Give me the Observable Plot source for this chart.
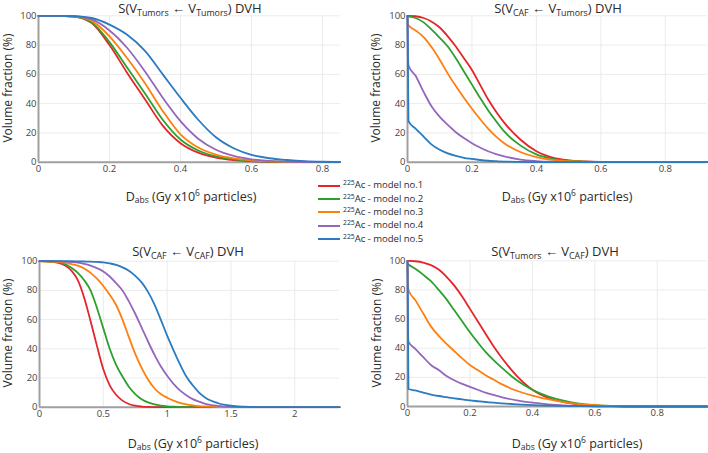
<!DOCTYPE html>
<html>
<head>
<meta charset="utf-8">
<script src="https://cdn.jsdelivr.net/npm/d3@7"></script>
<script src="https://cdn.jsdelivr.net/npm/@observablehq/plot@0.6"></script>
<style>
  html, body { margin: 0; padding: 0; background: #fff; }
  #fig { position: relative; width: 708px; height: 453px; background: #fff; font-family: "Open Sans", sans-serif; color: #444; overflow: hidden; }
  .abs { position: absolute; white-space: nowrap; transform: translate(-50%, -50%); line-height: 1; }
  .ttl { font-size: 13px; color: #2a2a2a; }
  .xl { font-size: 12.5px; color: #2a2a2a; }
  .yl { font-size: 12px; color: #2a2a2a; transform: translate(-50%, -50%) rotate(-90deg); }
  .sb { font-size: 0.68em; vertical-align: -0.3em; }
  .sp { font-size: 0.68em; vertical-align: 0.55em; }
  .leg { position: absolute; font-size: 9.5px; color: #2a2a2a; white-space: nowrap; line-height: 1; }
  .leg i { display: inline-block; width: 22px; height: 0; border-top: 2px solid; vertical-align: middle; margin-right: 3px; }
  svg { position: absolute; }
</style>
</head>
<body>
<div id="fig"></div>
<script>
// ---------- shared ----------
const models = ["model no.1", "model no.2", "model no.3", "model no.4", "model no.5"];
const colors = ["#e3262b", "#2ca02c", "#ff7f0e", "#9467bd", "#2b7bc0"];
const yTicks = [0, 20, 40, 60, 80, 100];

// ---------- panel 1: S(V_Tumors <- V_Tumors) ----------
const p1Ticks = [0, 0.2, 0.4, 0.6, 0.8];
const p1X = [0,0.05,0.1,0.15,0.2,0.25,0.3,0.35,0.4,0.45,0.5,0.55,0.6,0.65,0.7,0.75,0.8,0.85];
const p1M1 = [100,100,99.5,95,80,61,43,25,13,6.5,3.2,1.5,0.7,0.3,0.1,0.03,0,0];
const p1M2 = [100,100,99.5,95.5,82,64.5,47,29,15.5,8,4,2,0.9,0.4,0.15,0.05,0.01,0];
const p1M3 = [100,100,99.6,96.5,86,71,54,35,19,10,5.2,2.6,1.2,0.5,0.2,0.08,0.02,0];
const p1M4 = [100,100,99.7,97.5,90,78,62,44,28,16,8.5,4.3,2,0.9,0.35,0.12,0.05,0];
const p1M5 = [100,100,99.8,98.5,94,87,76,60,44,29,17,9.5,5,2.7,1.5,0.7,0.3,0.1];

// ---------- panel 2: S(V_CAF <- V_Tumors) ----------
const p2Ticks = [0, 0.2, 0.4, 0.6, 0.8];
const p2X = [0,0.003,0.025,0.05,0.075,0.1,0.125,0.15,0.175,0.2,0.225,0.25,0.275,0.3,0.35,0.4,0.45,0.5,0.55,0.6,0.65,0.7,0.8,0.93];
const p2M1 = [100,100,99.7,98.5,96,92,86,79,71,63,53,43,34.5,27,15.5,7.5,3.2,1.3,0.5,0.15,0.05,0,0,0];
const p2M2 = [99.5,99.5,98.5,95.5,90.5,85,79,71,62,53,44,35.5,28,21,11.5,5.3,2.3,1,0.4,0.1,0.03,0,0,0];
const p2M3 = [98,93.5,90,85.5,78.5,70,60.5,52,44,36.5,29.5,23,17.5,13,7,3.5,1.6,0.7,0.25,0.1,0.03,0,0,0];
const p2M4 = [100,66,59,48,38,31,25.5,20.5,16.5,13,10,7.5,5.5,4,1.8,0.8,0.3,0.1,0.03,0,0,0,0,0];
const p2M5 = [100,28,23,17.5,12,8.5,6,4.3,3,2.2,1.5,1,0.7,0.45,0.2,0.05,0,0,0,0,0,0,0,0];

// ---------- panel 3: S(V_CAF <- V_CAF) ----------
const p3Ticks = [0, 0.5, 1, 1.5, 2];
const p3X = [0,0.1,0.2,0.25,0.3,0.35,0.4,0.45,0.5,0.55,0.6,0.65,0.7,0.75,0.8,0.85,0.9,0.95,1,1.05,1.1,1.15,1.2,1.25,1.3,1.4,1.5,1.6,1.7,1.8,2,2.35];
const p3M1 = [100,99.5,97,93.5,87,75,59,42,26,15,8.5,4.5,2.2,1,0.45,0.2,0.08,0.03,0,0,0,0,0,0,0,0,0,0,0,0,0,0];
const p3M2 = [100,99.7,98,95.5,92,87,80,68,54,40,29,21,14,9,5.5,3.3,1.9,1.1,0.6,0.3,0.15,0.05,0,0,0,0,0,0,0,0,0,0];
const p3M3 = [100,99.8,99,98,97,95,92,88,83,77,70,60,48,36.5,27,19,13,9,6.5,4.5,3,2,1.3,0.8,0.5,0.15,0.03,0,0,0,0,0];
const p3M4 = [100,100,99.7,99.4,99,98.2,97,95.3,93,89.5,85,80,72.5,64,54.5,45,36,28,21.5,16,11.5,8.2,5.5,3.8,2.3,0.9,0.3,0.1,0.03,0,0,0];
const p3M5 = [100,100,100,100,99.9,99.8,99.7,99.5,99.2,98.5,97.5,95.8,93.5,90,85.5,79,70.5,60,49,39,29.5,21,15,10,6.5,2.7,1,0.35,0.1,0.02,0,0];

// ---------- panel 4: S(V_Tumors <- V_CAF) ----------
const p4Ticks = [0, 0.2, 0.4, 0.6, 0.8];
const p4X = [0,0.003,0.025,0.05,0.075,0.1,0.125,0.15,0.175,0.2,0.225,0.25,0.275,0.3,0.35,0.4,0.45,0.5,0.55,0.6,0.65,0.7,0.75,0.8,0.96];
const p4M1 = [100,100,99.7,98.8,97,94,89,83,75.5,67,58.5,50,41.5,34,21,11.5,6,3,1.3,0.5,0.2,0.05,0,0,0];
const p4M2 = [98,97.5,94.5,90.5,86,80,73.5,66,58.5,51,44,37.5,32,27,18,11.5,7,4,2,1,0.4,0.15,0.05,0,0];
const p4M3 = [97,80,73,64,55,48.5,43,38,33,28.5,25,21.5,18.5,15.5,10.8,7.5,5,3,1.7,0.9,0.4,0.15,0.05,0,0];
const p4M4 = [100,44.5,39.5,34,28.5,25,21,18,15.5,13.5,11.5,9.5,8,6.5,4.2,2.6,1.5,0.8,0.4,0.15,0.05,0,0,0,0];
const p4M5 = [100,12,11,9.5,8.2,7.2,6.4,5.6,4.9,4.2,3.6,3.1,2.6,2.2,1.5,1,0.65,0.4,0.25,0.12,0.05,0,0,0,0];

const fig = document.getElementById("fig");

function panel(cfg) {
  const series = cfg.ys.map((ys, i) => cfg.xs.map((x, j) => ({x, y: ys[j], model: models[i]})));
  const svg = Plot.plot({
    width: cfg.w, height: cfg.h,
    marginLeft: cfg.ml, marginRight: cfg.mr, marginTop: cfg.mt, marginBottom: cfg.mb,
    style: {fontFamily: "Open Sans", fontSize: "9.5px", color: "#444", background: "transparent", overflow: "visible"},
    x: {domain: [0, cfg.xmax], label: null},
    y: {domain: [0, 100], label: null},
    marks: [
      Plot.gridX(cfg.ticks, {stroke: "#ebebeb", strokeOpacity: 1}),
      Plot.gridY(yTicks, {stroke: "#ebebeb", strokeOpacity: 1}),
      Plot.ruleX([0], {stroke: "#a0a0a0", strokeWidth: 2}),
      Plot.ruleY([0], {stroke: "#a0a0a0", strokeWidth: 2}),
      ...series.map((d, i) => Plot.line(d, {x: "x", y: "y", stroke: colors[i], strokeWidth: 1.8, curve: "monotone-x"})),
      Plot.axisX(cfg.ticks, {tickSize: 0, tickPadding: 3, tickFormat: d => String(d), label: null}),
      Plot.axisY(yTicks, {tickSize: 0, tickPadding: 2, tickFormat: d => String(d), label: null})
    ]
  });
  svg.style.left = cfg.left + "px";
  svg.style.top = cfg.top + "px";
  fig.appendChild(svg);
}

panel({left: 0, top: 0, w: 354, h: 190, ml: 38, mr: 14.3, mt: 15.3, mb: 28.3, xmax: 0.85, ticks: p1Ticks, xs: p1X, ys: [p1M1, p1M2, p1M3, p1M4, p1M5]});
panel({left: 354, top: 0, w: 354, h: 190, ml: 53, mr: 1.3, mt: 15.3, mb: 28.3, xmax: 0.93, ticks: p2Ticks, xs: p2X, ys: [p2M1, p2M2, p2M3, p2M4, p2M5]});
panel({left: 0, top: 230, w: 354, h: 200, ml: 39, mr: 15, mt: 30.7, mb: 23.3, xmax: 2.35, ticks: p3Ticks, xs: p3X, ys: [p3M1, p3M2, p3M3, p3M4, p3M5]});
panel({left: 354, top: 230, w: 354, h: 200, ml: 53, mr: 1.3, mt: 30.3, mb: 24, xmax: 0.96, ticks: p4Ticks, xs: p4X, ys: [p4M1, p4M2, p4M3, p4M4, p4M5]});

function label(cls, x, y, html) {
  const d = document.createElement("div");
  d.className = "abs " + cls;
  d.style.left = x + "px";
  d.style.top = y + "px";
  d.innerHTML = html;
  fig.appendChild(d);
}
const V = s => `V<span class="sb">${s}</span>`;
label("ttl", 190, 9.5, `S(${V("Tumors")} ← ${V("Tumors")}) DVH`);
label("ttl", 558, 9.5, `S(${V("CAF")} ← ${V("Tumors")}) DVH`);
label("ttl", 188, 253, `S(${V("CAF")} ← ${V("CAF")}) DVH`);
label("ttl", 555, 253, `S(${V("Tumors")} ← ${V("CAF")}) DVH`);

const XL = `D<span class="sb">abs</span> (Gy x10<span class="sp">6</span> particles)`;
label("xl", 191, 197, XL);
label("xl", 567, 197, XL);
label("xl", 193, 444, XL);
label("xl", 577, 444, XL);

const YL = "Volume fraction (%)";
label("yl", 8, 88, YL);
label("yl", 376, 88, YL);
label("yl", 8, 333, YL);
label("yl", 377, 333, YL);

const legRows = [185.3, 198.7, 212, 225.3, 238.7];
models.forEach((m, i) => {
  const d = document.createElement("div");
  d.className = "leg";
  d.style.left = "318px";
  d.style.top = (legRows[i] - 5) + "px";
  d.innerHTML = `<i style="border-color:${colors[i]}"></i><span style="font-size:0.72em;vertical-align:0.4em">225</span>Ac - ${m}`;
  fig.appendChild(d);
});
</script>
</body>
</html>
